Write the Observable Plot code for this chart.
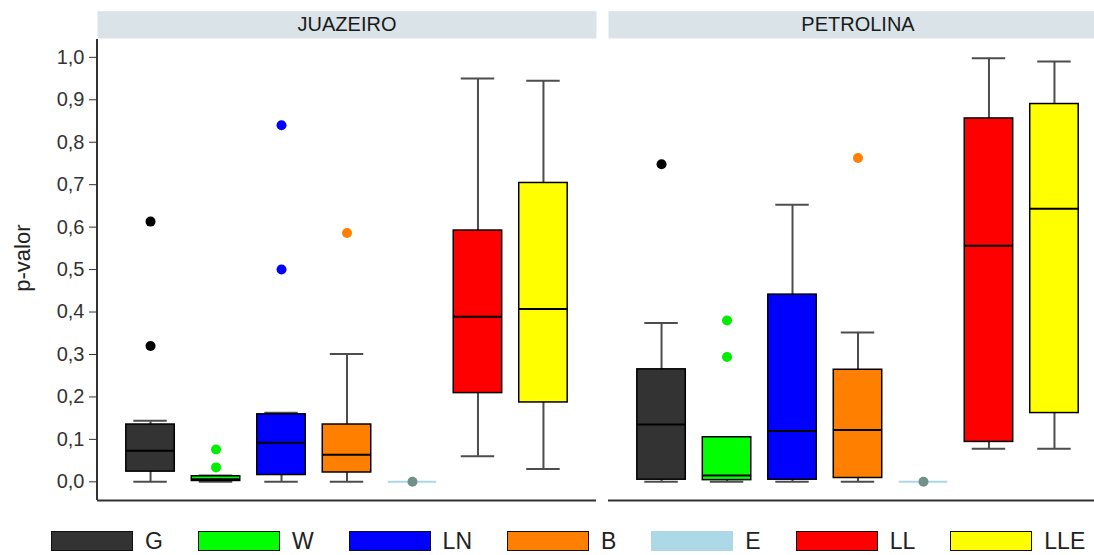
<!DOCTYPE html>
<html>
<head>
<meta charset="utf-8">
<script src="https://cdn.jsdelivr.net/npm/d3@7"></script>
<script src="https://cdn.jsdelivr.net/npm/@observablehq/plot@0.6"></script>
<style>
  html, body { margin: 0; padding: 0; background: #fff; }
  body { font-family: "Liberation Sans", Arial, sans-serif; }
  #wrap { position: relative; width: 1094px; height: 555px; overflow: hidden; }
  #legend { position: absolute; left: 51px; top: 531px; display: flex; align-items: center; gap: 35px; white-space: nowrap; }
  .item { display: flex; align-items: center; }
  .swatch { width: 82px; height: 20px; box-sizing: border-box; border: 1.5px solid #111; }
  .label { margin-left: 12px; font-size: 23px; color: #222; line-height: 20px; }
</style>
</head>
<body>
<div id="wrap">
  <div id="chart"></div>
  <div id="legend"></div>
</div>
<script>
// Panels and groups
const cities = ["JUAZEIRO", "PETROLINA"];
const groups = ["G", "W", "LN", "B", "E", "LL", "LLE"];
const boxFills = ["#333333", "#00FF00", "#0000FF", "#FF7F00", "#ADD8E6", "#FF0000", "#FFFF00"];
const boxStrokes = ["#000000", "#000000", "#000000", "#000000", "#ADD8E6", "#000000", "#000000"];
const outlierFills = ["#000000", "#00EE00", "#0000FF", "#FF7F00", "#6F918A", "#FF0000", "#FFFF00"];

// JUAZEIRO box statistics (lower whisker, Q1, median, Q3, upper whisker)
const juaLow  = [0,     0,     0,     0,     0, 0.060, 0.030];
const juaQ1   = [0.024, 0.002, 0.016, 0.022, 0, 0.209, 0.187];
const juaMed  = [0.073, 0.006, 0.092, 0.064, 0, 0.389, 0.407];
const juaQ3   = [0.135, 0.013, 0.159, 0.135, 0, 0.592, 0.704];
const juaHigh = [0.144, 0.015, 0.163, 0.301, 0, 0.950, 0.945];

// PETROLINA box statistics
const petLow  = [0,     0,     0,     0,     0, 0.078, 0.078];
const petQ1   = [0.005, 0.004, 0.005, 0.009, 0, 0.094, 0.162];
const petMed  = [0.135, 0.015, 0.120, 0.122, 0, 0.556, 0.643];
const petQ3   = [0.265, 0.105, 0.441, 0.264, 0, 0.856, 0.890];
const petHigh = [0.374, 0.105, 0.653, 0.352, 0, 0.998, 0.990];

// Outlying p-values
const outlierCity  = ["JUAZEIRO", "JUAZEIRO", "JUAZEIRO", "JUAZEIRO", "JUAZEIRO", "JUAZEIRO", "JUAZEIRO", "JUAZEIRO",
                      "PETROLINA", "PETROLINA", "PETROLINA", "PETROLINA", "PETROLINA"];
const outlierGroup = ["G", "G", "W", "W", "LN", "LN", "B", "E",
                      "G", "W", "W", "B", "E"];
const outlierValue = [0.320, 0.613, 0.034, 0.076, 0.500, 0.840, 0.586, 0,
                      0.748, 0.294, 0.380, 0.763, 0];

// Y axis
const yTicks = [0, 0.1, 0.2, 0.3, 0.4, 0.5, 0.6, 0.7, 0.8, 0.9, 1.0];
const yDomain = [-0.044, 1.042];
const yLabel = "p-valor";

const stats = {
  JUAZEIRO: [juaLow, juaQ1, juaMed, juaQ3, juaHigh],
  PETROLINA: [petLow, petQ1, petMed, petQ3, petHigh]
};
const boxes = cities.flatMap(city => {
  const [lo, q1, med, q3, hi] = stats[city];
  return groups.map((group, i) => ({
    city, group, lo: lo[i], q1: q1[i], med: med[i], q3: q3[i], hi: hi[i],
    fill: boxFills[i], stroke: boxStrokes[i]
  }));
});
const outliers = outlierValue.map((value, i) => ({
  city: outlierCity[i], group: outlierGroup[i], value,
  fill: outlierFills[groups.indexOf(outlierGroup[i])]
}));

const fmt = d => d.toFixed(1).replace(".", ",");
const whisker = "#4D4D4D";

const plot = Plot.plot({
  width: 1107,
  height: 512,
  marginLeft: 97,
  marginRight: 0,
  marginTop: 39,
  marginBottom: 12,
  style: { fontFamily: "Liberation Sans, Arial, sans-serif", fontSize: "20px", color: "#333", background: "white", maxWidth: "none", overflow: "visible" },
  fx: { domain: cities, paddingInner: 0.0235, paddingOuter: 0, round: false, axis: null },
  x: { domain: groups, paddingInner: 0.26, paddingOuter: 0.44, round: false, axis: null },
  y: { domain: yDomain },
  marks: [
    // facet strips
    Plot.frame({ fill: "#D9E3E8", stroke: "none", insetTop: -28.3, insetBottom: 462 }),
    Plot.text(cities, { fx: d => d, text: d => d, frameAnchor: "top", lineAnchor: "middle", dy: -15, fontSize: 20, fill: "#1A1A1A" }),
    // bottom axis line in each panel
    Plot.ruleY([yDomain[0]], { stroke: "#333", strokeWidth: 2 }),
    Plot.axisY({ ticks: yTicks, tickFormat: fmt, tickSize: 8, tickPadding: 5, fontSize: 20, label: null, color: "#333" }),
    // whiskers and caps
    Plot.ruleX(boxes, { fx: "city", x: "group", y1: "lo", y2: "hi", stroke: whisker, strokeWidth: 2 }),
    Plot.tickY(boxes.filter(d => d.hi > d.lo), { fx: "city", x: "group", y: "hi", stroke: whisker, strokeWidth: 2, insetLeft: 7.5, insetRight: 7.5 }),
    Plot.tickY(boxes.filter(d => d.hi > d.lo), { fx: "city", x: "group", y: "lo", stroke: whisker, strokeWidth: 2, insetLeft: 7.5, insetRight: 7.5 }),
    // boxes and medians
    Plot.barY(boxes, { fx: "city", x: "group", y1: "q1", y2: "q3", fill: "fill", stroke: "stroke", strokeWidth: 1.5 }),
    Plot.tickY(boxes, { fx: "city", x: "group", y: "med", stroke: "stroke", strokeWidth: 2 }),
    // outliers
    Plot.dot(outliers, { fx: "city", x: "group", y: "value", fill: "fill", r: 5 })
  ]
});

// left axis line and rotated title
const svg = d3.select(plot);
const fx = plot.scale("fx");
const y = plot.scale("y");
const x0 = fx.apply(cities[0]);
svg.append("line")
  .attr("x1", x0).attr("x2", x0)
  .attr("y1", y.apply(yDomain[1])).attr("y2", y.apply(yDomain[0]))
  .attr("stroke", "#333").attr("stroke-width", 2);
svg.append("text")
  .attr("transform", `translate(22,${(y.apply(0.5) - 11)}) rotate(-90)`)
  .attr("text-anchor", "middle")
  .attr("dominant-baseline", "central")
  .attr("font-size", 22)
  .attr("fill", "#222")
  .text(yLabel);

document.getElementById("chart").appendChild(plot);

// legend
const legend = d3.select("#legend");
groups.forEach((g, i) => {
  const item = legend.append("div").attr("class", "item");
  item.append("div").attr("class", "swatch")
    .style("background", boxFills[i])
    .style("border-color", g === "E" ? boxFills[i] : "#111");
  item.append("span").attr("class", "label").text(g);
});
</script>
</body>
</html>
